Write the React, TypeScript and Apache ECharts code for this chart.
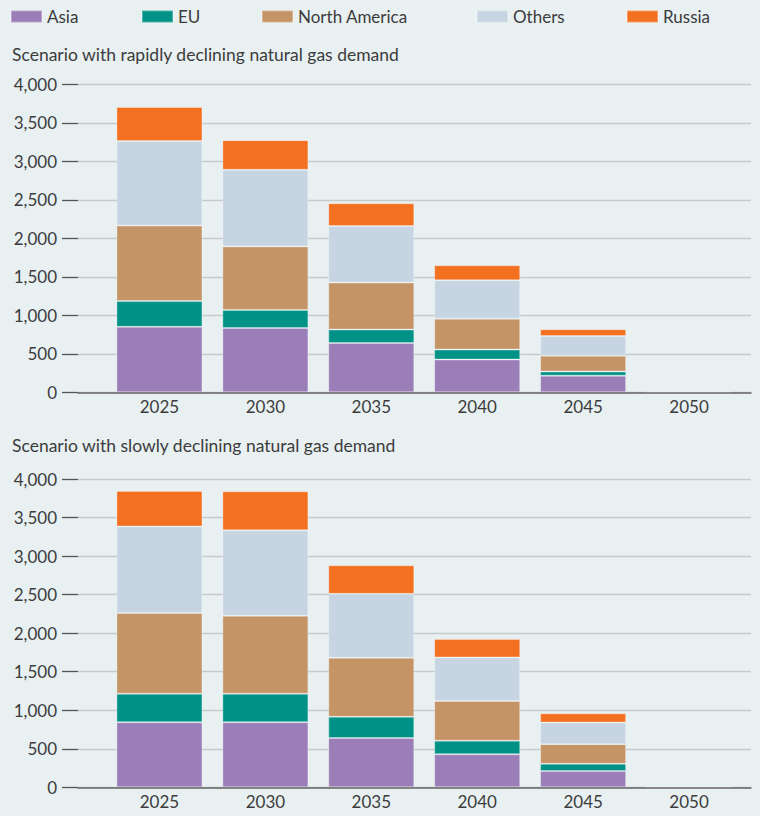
import React, { useEffect, useRef } from 'react';
import * as echarts from 'echarts';

const years = ['2025', '2030', '2035', '2040', '2045', '2050'];
const seriesNames = ['Asia', 'EU', 'North America', 'Others', 'Russia'];
const seriesColors = ['#9b7db7', '#009286', '#c49467', '#c6d5e1', '#f37021'];
const panelTitles = [
  'Scenario with rapidly declining natural gas demand',
  'Scenario with slowly declining natural gas demand',
];

const rapidAsia = [850, 835, 640, 425, 215, 0];
const rapidEU = [335, 235, 175, 130, 55, 0];
const rapidNorthAmerica = [980, 825, 610, 400, 205, 0];
const rapidOthers = [1100, 995, 735, 500, 255, 0];
const rapidRussia = [440, 385, 295, 195, 90, 0];

const slowAsia = [845, 845, 640, 430, 210, 0];
const slowEU = [370, 370, 275, 175, 95, 0];
const slowNorthAmerica = [1045, 1010, 765, 515, 255, 0];
const slowOthers = [1125, 1110, 830, 565, 280, 0];
const slowRussia = [460, 505, 370, 240, 120, 0];

const yMin = 0;
const yMax = 4000;
const yInterval = 500;

const FONT = 'Lato, "Noto Sans", sans-serif';
const TEXT = '#3c3c3c';

export default function App() {
  const ref = useRef<HTMLDivElement>(null);

  useEffect(() => {
    if (!ref.current) return;
    const chart = echarts.init(ref.current, undefined, { renderer: 'svg' });

    const panels = [
      { data: [rapidAsia, rapidEU, rapidNorthAmerica, rapidOthers, rapidRussia], top: 84.3, height: 308, titleTop: 45 },
      { data: [slowAsia, slowEU, slowNorthAmerica, slowOthers, slowRussia], top: 479, height: 308.3, titleTop: 436 },
    ];

    const grid: any[] = [];
    const xAxis: any[] = [];
    const yAxis: any[] = [];
    const series: any[] = [];
    const title: any[] = [];

    panels.forEach((p, i) => {
      const gA = i * 2;
      const gB = i * 2 + 1;
      grid.push({ left: 78, right: 9, top: p.top, height: p.height });
      grid.push({ left: 106.5, right: 18, top: p.top, height: p.height });
      title.push({
        text: panelTitles[i],
        left: 12,
        top: p.titleTop,
        padding: 0,
        textStyle: { fontFamily: FONT, fontSize: 17.5, fontWeight: 'normal', color: TEXT },
      });
      xAxis.push({
        gridIndex: gA,
        type: 'category',
        data: years,
        z: 10,
        axisLine: { show: true, lineStyle: { color: '#666', width: 1.5 } },
        axisTick: { show: false },
        axisLabel: { show: false },
        splitLine: { show: false },
      });
      yAxis.push({
        gridIndex: gA,
        type: 'value',
        min: yMin,
        max: yMax,
        interval: yInterval,
        axisLine: { show: false },
        axisTick: { show: true, length: 16, lineStyle: { color: '#555', width: 1.3 } },
        axisLabel: {
          margin: 21,
          fontFamily: FONT,
          fontSize: 17,
          color: TEXT,
          formatter: (v: number) => v.toLocaleString('en-US'),
        },
        splitLine: { show: true, lineStyle: { color: '#c5cacc', width: 1.3 } },
      });
      xAxis.push({
        gridIndex: gB,
        type: 'category',
        data: years,
        axisLine: { show: false },
        axisTick: { show: false },
        axisLabel: { margin: 6, fontFamily: FONT, fontSize: 17, color: TEXT },
        splitLine: { show: false },
      });
      yAxis.push({
        gridIndex: gB,
        type: 'value',
        min: yMin,
        max: yMax,
        interval: yInterval,
        show: false,
      });
      p.data.forEach((vals, k) => {
        series.push({
          type: 'bar',
          name: seriesNames[k],
          stack: 'panel' + i,
          xAxisIndex: gB,
          yAxisIndex: gB,
          barWidth: 86,
          data: vals,
          itemStyle: {
            color: seriesColors[k],
            borderColor: 'rgba(255,255,255,0.3)',
            borderWidth: 1,
          },
        });
      });
    });

    const legendLefts = [10, 141, 261, 476, 626];
    const legend = seriesNames.map((n, k) => ({
      data: [n],
      left: legendLefts[k],
      top: 8,
      padding: 0,
      icon: 'rect',
      itemWidth: 31,
      itemHeight: 12,
      itemGap: 5,
      selectedMode: false,
      textStyle: { fontFamily: FONT, fontSize: 17, color: TEXT, padding: [0, 0, 0, 0] },
    }));

    chart.setOption({
      animation: false,
      backgroundColor: '#e8f0f2',
      title,
      legend,
      grid,
      xAxis,
      yAxis,
      series,
    });

    return () => chart.dispose();
  }, []);

  return (
    <div
      ref={ref}
      style={{ position: 'fixed', left: 0, top: 0, width: 760, height: 816 }}
    />
  );
}
